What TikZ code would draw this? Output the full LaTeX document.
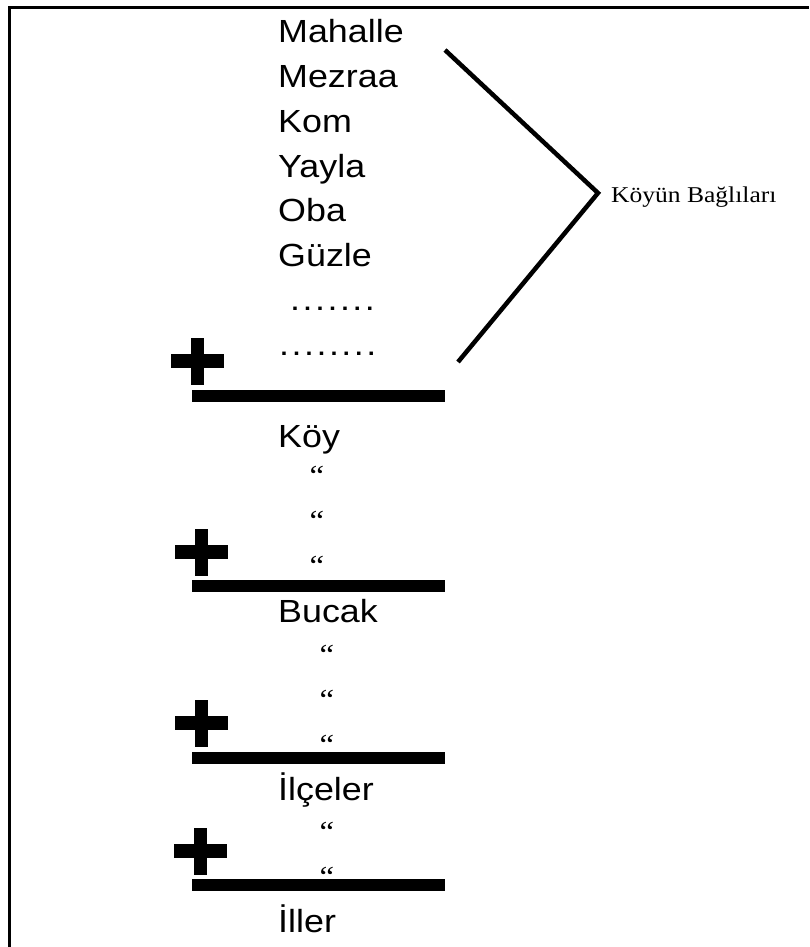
\documentclass[tikz,border=0pt]{standalone}
\usepackage{fontspec}
\setmainfont[FakeStretch=1.12]{Liberation Sans}
\newfontfamily\timesx[FakeStretch=1.13]{Liberation Serif}
\tikzset{
  item/.style={anchor=base west, inner sep=0pt, font=\fontsize{32}{36}\selectfont},
  ditto/.style={anchor=base, inner sep=0pt, font=\timesx\fontsize{29}{32}\selectfont},
  tag/.style={anchor=base west, inner sep=0pt, font=\timesx\fontsize{22.6}{26}\selectfont},
  bar/.style={line width=12pt},
  brace/.style={line width=4.5pt, line join=miter},
  frame/.style={line width=3pt},
}
\newcommand\dotrun[1]{\foreach \i in {1,...,#1}{.\hspace{2.5pt}}}
\begin{document}
\begin{tikzpicture}[x=1pt,y=-1pt]
  \useasboundingbox (0,0) rectangle (809,947);
  \draw[frame] (9,947) -- (9,7.5) -- (809,7.5);
  \draw
    (278,43) node[item] (mahalle){Mahalle}
    (278,88) node[item] (mezraa){Mezraa}
    (278,132) node[item] (kom){Kom}
    (278,177) node[item] (yayla){Yayla}
    (278,221) node[item] (oba){Oba}
    (278,266) node[item] (guzle){Güzle}
    (290,310) node[item] (dots1){\dotrun{7}}
    (279,355) node[item] (dots2){\dotrun{8}}
    (278,447) node[item] (koy){Köy}
    (278,622) node[item] (bucak){Bucak}
    (278,800) node[item] (ilceler){İlçeler}
    (278,932) node[item] (iller){İller}
    (611,202) node[tag] (baglilar){Köyün Bağlıları};
  \draw
    (317,485) node[ditto] (q1){“}
    (317,530) node[ditto] (q2){“}
    (317,575) node[ditto] (q3){“}
    (327,664) node[ditto] (q4){“}
    (327,709) node[ditto] (q5){“}
    (327,754) node[ditto] (q6){“}
    (327,841) node[ditto] (q7){“}
    (327,886) node[ditto] (q8){“};
  \coordinate (brtop) at (445,50);
  \coordinate (brtip) at (598,193);
  \coordinate (brbot) at (458,362);
  \draw[brace] (brtop) -- (brtip) -- (brbot);
  \begin{scope}[bar]
    \draw (192,396) -- (445,396);
    \draw (192,586) -- (445,586);
    \draw (192,758) -- (445,758);
    \draw (192,885) -- (445,885);
  \end{scope}
  \begin{scope}[fill=black]
    \fill (170.5,354) rectangle (223.5,368);
    \fill (190.5,337.5) rectangle (203.5,384.5);
    \fill (174.5,545) rectangle (227.5,559);
    \fill (194.5,528.5) rectangle (207.5,575.5);
    \fill (174.5,716) rectangle (227.5,730);
    \fill (194.5,699.5) rectangle (207.5,746.5);
    \fill (173.5,844) rectangle (226.5,858);
    \fill (193.5,827.5) rectangle (206.5,874.5);
  \end{scope}
\end{tikzpicture}
\end{document}
